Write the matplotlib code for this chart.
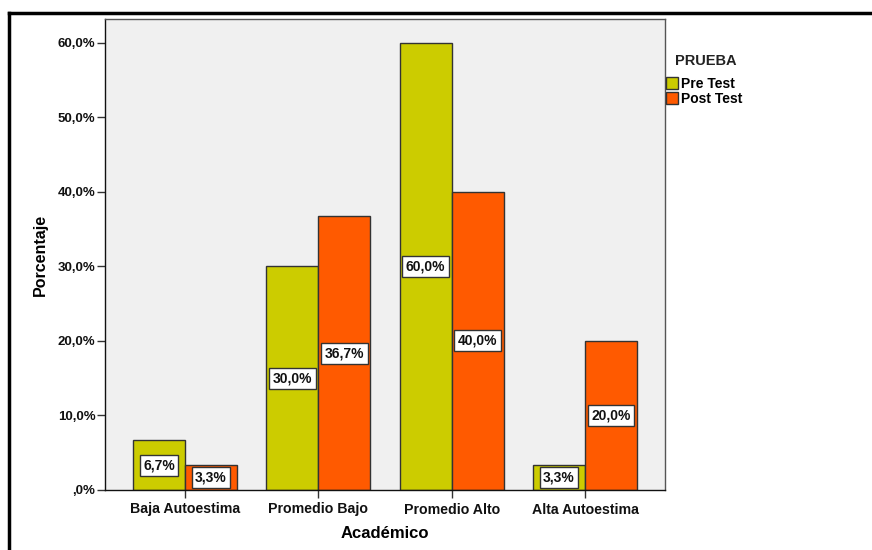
import matplotlib.pyplot as plt
import numpy as np
from matplotlib.patches import Patch

categories = ["Baja Autoestima", "Promedio Bajo", "Promedio Alto", "Alta Autoestima"]
pre_test = [6.7, 30.0, 60.0, 3.3]
post_test = [3.3, 36.7, 40.0, 20.0]
series_names = ["Pre Test", "Post Test"]
yticks = [0, 10, 20, 30, 40, 50, 60]

PRE_COLOR = "#cccc00"
POST_COLOR = "#ff5a00"
PANEL_BG = "#f0f0f0"

plt.rcParams["font.family"] = ["Liberation Sans", "DejaVu Sans"]
plt.rcParams["font.weight"] = "bold"

fig = plt.figure(figsize=(8.72, 5.5), dpi=100)
ax = fig.add_axes([105 / 872, 1 - 490 / 550, 560 / 872, 471 / 550])
ax.set_facecolor(PANEL_BG)

x = np.arange(len(categories))
w = 0.39
bars_pre = ax.bar(x - w / 2, pre_test, w, color=PRE_COLOR, edgecolor="#333333", linewidth=1)
bars_post = ax.bar(x + w / 2, post_test, w, color=POST_COLOR, edgecolor="#333333", linewidth=1)


def fmt(v):
    return f"{v:.1f}".replace(".", ",") + "%"


for bars, vals in ((bars_pre, pre_test), (bars_post, post_test)):
    for b, v in zip(bars, vals):
        ax.text(b.get_x() + b.get_width() / 2, v / 2, fmt(v), ha="center", va="center",
                fontsize=10, fontweight="bold", color="#111111",
                bbox=dict(boxstyle="square,pad=0.25", facecolor="white", edgecolor="#333333", linewidth=1))

ax.set_xlim(-0.6, 3.6)
ax.set_ylim(0, 63.2)
ax.set_yticks(yticks)
ax.set_yticklabels([",0%"] + [f"{t},0%" for t in yticks[1:]])
ax.set_xticks(x)
ax.set_xticklabels(categories)
ax.tick_params(axis="both", color="#333333", length=6, width=1)
ax.tick_params(axis="y", labelsize=9.5, pad=1)
ax.tick_params(axis="x", labelsize=10.2, pad=3)
for lbl in ax.get_xticklabels() + ax.get_yticklabels():
    lbl.set_fontweight("bold")
    lbl.set_color("#111111")
for sp in ax.spines.values():
    sp.set_color("#555555")
    sp.set_linewidth(1)
ax.spines["left"].set_color("#111111")
ax.spines["bottom"].set_color("#111111")

ax.set_ylabel("Porcentaje", fontsize=11.5, fontweight="bold", labelpad=7)
ax.set_xlabel("Académico", fontsize=12, fontweight="bold", labelpad=7)

# legend title and entries
fig.text(675 / 872, 1 - 61 / 550, "PRUEBA", fontsize=10.5, fontweight="bold",
         color="#222222", ha="left", va="center")
handles = [Patch(facecolor=PRE_COLOR, edgecolor="#333333"),
           Patch(facecolor=POST_COLOR, edgecolor="#333333")]
fig.legend(handles, series_names, loc="upper left",
           bbox_to_anchor=(666 / 872, 1 - 77 / 550), frameon=False,
           prop={"size": 10, "weight": "bold"},
           handlelength=0.85, handleheight=0.9, handletextpad=0.25, labelspacing=0.05,
           borderaxespad=0, borderpad=0)

# outer frame (top and left edges)
fig.add_artist(plt.Line2D([9 / 872, 1.0], [1 - 13 / 550, 1 - 13 / 550], color="black", linewidth=2.5,
                          transform=fig.transFigure))
fig.add_artist(plt.Line2D([9 / 872, 9 / 872], [0, 1 - 13 / 550], color="black", linewidth=2.5,
                          transform=fig.transFigure))

fig.savefig("out.png", dpi=100, facecolor="white")
